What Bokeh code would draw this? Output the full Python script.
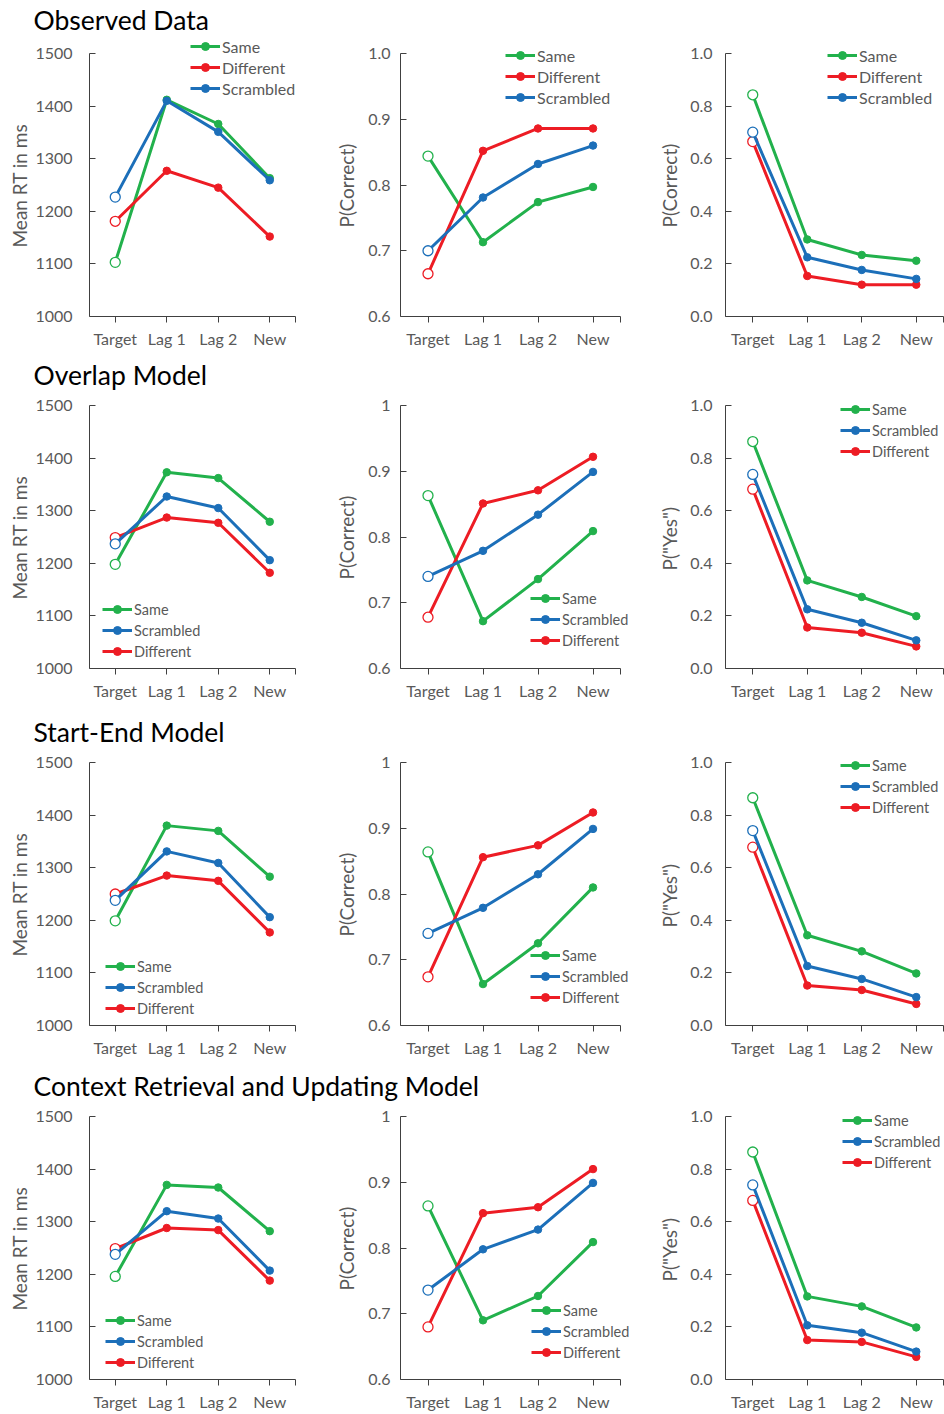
from bokeh.plotting import figure
from bokeh.models import Range1d, FixedTicker, Legend, LegendItem, Label, Title
from bokeh.layouts import column, row
from bokeh.embed import file_html
from bokeh.resources import INLINE

FONT = "Lato"
GREY = "#595959"
AXIS = "#404040"

categories = ["Target", "Lag 1", "Lag 2", "New"]
x_pos = [0, 1, 2, 3]
colors = {"Same": "#22b14c", "Different": "#ed1c24", "Scrambled": "#1c6fb9"}

row_titles = ["Observed Data", "Overlap Model", "Start-End Model",
              "Context Retrieval and Updating Model"]

# y-axis ticks / labels
rt_ticks = [1000, 1100, 1200, 1300, 1400, 1500]
rt_labels = ["1000", "1100", "1200", "1300", "1400", "1500"]
acc_ticks = [0.6, 0.7, 0.8, 0.9, 1.0]
acc_labels_obs = ["0.6", "0.7", "0.8", "0.9", "1.0"]
acc_labels_model = ["0.6", "0.7", "0.8", "0.9", "1"]
yes_ticks = [0.0, 0.2, 0.4, 0.6, 0.8, 1.0]
yes_labels = ["0.0", "0.2", "0.4", "0.6", "0.8", "1.0"]

# ---- Observed data ----
obs_rt_same = [1103, 1412, 1366, 1263]
obs_rt_diff = [1181, 1277, 1245, 1152]
obs_rt_scr = [1227, 1410, 1351, 1259]
obs_acc_same = [0.844, 0.713, 0.774, 0.797]
obs_acc_diff = [0.665, 0.852, 0.886, 0.886]
obs_acc_scr = [0.700, 0.781, 0.832, 0.860]
obs_yes_same = [0.843, 0.293, 0.234, 0.212]
obs_yes_diff = [0.665, 0.154, 0.121, 0.121]
obs_yes_scr = [0.701, 0.225, 0.177, 0.143]

# ---- Overlap model ----
ovl_rt_same = [1198, 1373, 1362, 1279]
ovl_rt_scr = [1237, 1327, 1305, 1206]
ovl_rt_diff = [1249, 1287, 1277, 1182]
ovl_acc_same = [0.863, 0.672, 0.736, 0.809]
ovl_acc_scr = [0.740, 0.779, 0.834, 0.899]
ovl_acc_diff = [0.678, 0.851, 0.871, 0.922]
ovl_yes_same = [0.863, 0.335, 0.272, 0.199]
ovl_yes_scr = [0.738, 0.225, 0.174, 0.107]
ovl_yes_diff = [0.682, 0.156, 0.136, 0.084]

# ---- Start-End model ----
se_rt_same = [1199, 1380, 1370, 1283]
se_rt_scr = [1238, 1331, 1309, 1206]
se_rt_diff = [1250, 1285, 1275, 1177]
se_acc_same = [0.864, 0.663, 0.725, 0.810]
se_acc_scr = [0.740, 0.779, 0.830, 0.899]
se_acc_diff = [0.674, 0.856, 0.874, 0.924]
se_yes_same = [0.866, 0.343, 0.282, 0.198]
se_yes_scr = [0.741, 0.226, 0.177, 0.108]
se_yes_diff = [0.678, 0.152, 0.135, 0.082]

# ---- Context Retrieval and Updating model ----
cr_rt_same = [1196, 1370, 1365, 1282]
cr_rt_scr = [1238, 1320, 1306, 1207]
cr_rt_diff = [1249, 1288, 1284, 1188]
cr_acc_same = [0.864, 0.690, 0.727, 0.809]
cr_acc_scr = [0.736, 0.798, 0.828, 0.899]
cr_acc_diff = [0.680, 0.853, 0.862, 0.920]
cr_yes_same = [0.865, 0.316, 0.278, 0.198]
cr_yes_scr = [0.740, 0.206, 0.178, 0.106]
cr_yes_diff = [0.681, 0.150, 0.143, 0.086]

obs_order = ["Same", "Different", "Scrambled"]
model_order = ["Same", "Scrambled", "Different"]

rows_data = [
    (obs_order, [
        {"Same": obs_rt_same, "Different": obs_rt_diff, "Scrambled": obs_rt_scr},
        {"Same": obs_acc_same, "Different": obs_acc_diff, "Scrambled": obs_acc_scr},
        {"Same": obs_yes_same, "Different": obs_yes_diff, "Scrambled": obs_yes_scr}],
     acc_labels_obs, "P(Correct)"),
    (model_order, [
        {"Same": ovl_rt_same, "Different": ovl_rt_diff, "Scrambled": ovl_rt_scr},
        {"Same": ovl_acc_same, "Different": ovl_acc_diff, "Scrambled": ovl_acc_scr},
        {"Same": ovl_yes_same, "Different": ovl_yes_diff, "Scrambled": ovl_yes_scr}],
     acc_labels_model, 'P("Yes")'),
    (model_order, [
        {"Same": se_rt_same, "Different": se_rt_diff, "Scrambled": se_rt_scr},
        {"Same": se_acc_same, "Different": se_acc_diff, "Scrambled": se_acc_scr},
        {"Same": se_yes_same, "Different": se_yes_diff, "Scrambled": se_yes_scr}],
     acc_labels_model, 'P("Yes")'),
    (model_order, [
        {"Same": cr_rt_same, "Different": cr_rt_diff, "Scrambled": cr_rt_scr},
        {"Same": cr_acc_same, "Different": cr_acc_diff, "Scrambled": cr_acc_scr},
        {"Same": cr_yes_same, "Different": cr_yes_diff, "Scrambled": cr_yes_scr}],
     acc_labels_model, 'P("Yes")'),
]

# layout geometry
block_h = [352, 357, 354, 351]
title_h = [36, 40, 40, 40]
title_top = [3, 6, 6, 6]
plot_top = 53                 # top of the plotted y-span within each block
col_w = [315, 315, 314]
col_left = [89, 85, 95]
col_frame = [206, 220, 218]   # width of the plotted x-span (-0.5 .. 3.5)
tick_std = [17, 10, 13]
lab_std = [3, 15, 14]
frame_h = 263                 # height of the plotted y-span
legend_font = ["16px", "14.5px", "14.5px", "14.5px"]
ylab_offset = {"Mean RT in ms": 69, "P(Correct)": 89, 'P("Yes")': 98}

legend_xy = [
    [(101, 218), (105, 209), (102, 209)],
    [(13, 7), (130, 18), (115, 207)],
    [(16, 7), (130, 18), (115, 208)],
    [(16, 7), (131, 17), (117, 207)],
]


def make_panel(r, c, data, order, yrange, ticks, labels, ylabel):
    h = block_h[r] - title_h[r]
    top_pad = plot_top - title_h[r]
    full_w = col_w[c] - col_left[c]
    ymin, ymax = yrange
    ytop = ymax + top_pad * (ymax - ymin) / frame_h
    xright = -0.5 + 4.0 * full_w / col_frame[c]
    p = figure(width=col_w[c], height=h, output_backend="svg", toolbar_location=None,
               x_range=Range1d(-0.5, xright), y_range=Range1d(ymin, ytop),
               min_border_left=col_left[c], min_border_right=0,
               min_border_top=0,
               min_border_bottom=h - top_pad - frame_h)
    p.outline_line_color = None
    p.xgrid.visible = False
    p.ygrid.visible = False

    xa = p.xaxis[0]
    xa.bounds = (-0.5, 3.5)
    xa.ticker = FixedTicker(ticks=[0, 1, 2, 3, 3.5])
    ov = {t: l for t, l in zip(x_pos, categories)}
    ov[3.5] = ""
    xa.major_label_overrides = ov
    xa.major_tick_out = 6
    xa.major_tick_in = 0
    xa.minor_tick_line_color = None
    xa.axis_line_color = AXIS
    xa.major_tick_line_color = AXIS
    xa.major_label_text_font = FONT
    xa.major_label_text_font_size = "16px"
    xa.major_label_text_color = GREY
    xa.major_label_standoff = 6

    ya = p.yaxis[0]
    ya.bounds = (ymin, ymax)
    ya.ticker = FixedTicker(ticks=ticks)
    ya.major_label_overrides = {t: l for t, l in zip(ticks, labels)}
    ya.major_tick_in = 6
    ya.major_tick_out = 0
    ya.minor_tick_line_color = None
    ya.axis_line_color = AXIS
    ya.major_tick_line_color = AXIS
    ya.major_label_text_font = FONT
    ya.major_label_text_font_size = "16px"
    ya.major_label_text_color = GREY
    ya.major_label_standoff = tick_std[c]

    # y-axis title, anchored at the bottom of the plotted span
    p.add_layout(Title(text=ylabel, align="left", offset=ylab_offset[ylabel],
                       standoff=lab_std[c], text_font=FONT, text_font_size="19px",
                       text_font_style="normal", text_color=GREY), "left")

    items = {}
    for name in ["Same", "Different", "Scrambled"]:
        vals = data[name]
        col = colors[name]
        ln = p.line(x=x_pos, y=vals, line_color=col, line_width=3)
        filled = p.scatter(x=x_pos[1:], y=vals[1:], size=7.5, marker="circle",
                           fill_color=col, line_color=col)
        p.scatter(x=x_pos[:1], y=vals[:1], size=10, marker="circle",
                  fill_color="white", line_color=col, line_width=1.3)
        items[name] = LegendItem(label=name, renderers=[ln, filled])

    leg = Legend(items=[items[n] for n in order], location=legend_xy[r][c],
                 glyph_width=30, glyph_height=20, label_height=20,
                 label_standoff=2, spacing=1, padding=0, margin=0,
                 border_line_color=None, background_fill_alpha=0,
                 label_text_font=FONT, label_text_font_size=legend_font[r],
                 label_text_color=GREY)
    p.add_layout(leg)
    return p


blocks = []
for r, (order, panels, acc_labels, yes_label) in enumerate(rows_data):
    th = title_h[r]
    t = figure(frame_width=944, frame_height=th, output_backend="svg",
               toolbar_location=None, x_range=Range1d(0, 1), y_range=Range1d(0, 1),
               min_border=0, min_border_left=0, min_border_right=0,
               min_border_top=0, min_border_bottom=0,
               x_axis_type=None, y_axis_type=None)
    t.outline_line_color = None
    t.add_layout(Label(x=33, y=th - title_top[r], x_units="screen", y_units="screen",
                       text=row_titles[r], text_font=FONT, text_font_size="26.5px",
                       text_color="black", text_baseline="top"))
    p1 = make_panel(r, 0, panels[0], order, (1000, 1500), rt_ticks, rt_labels, "Mean RT in ms")
    p2 = make_panel(r, 1, panels[1], order, (0.6, 1.0), acc_ticks, acc_labels, "P(Correct)")
    p3 = make_panel(r, 2, panels[2], order, (0.0, 1.0), yes_ticks, yes_labels, yes_label)
    blocks.append(t)
    blocks.append(row(p1, p2, p3))

layout = column(*blocks)
open("out.html", "w").write(file_html(layout, INLINE))
